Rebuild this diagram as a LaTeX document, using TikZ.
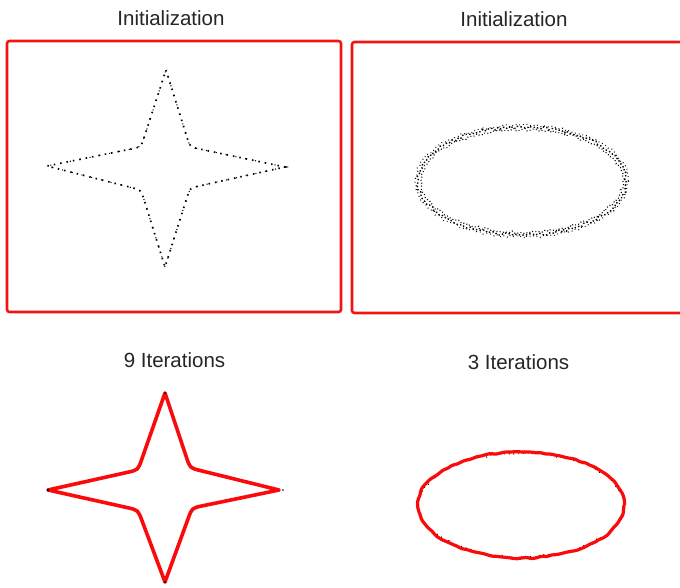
\documentclass[tikz,border=0pt]{standalone}
\usepackage{fontspec}
\setmainfont{Liberation Sans}
\usetikzlibrary{calc,decorations.pathmorphing}
\definecolor{boxred}{RGB}{240,20,20}
\definecolor{curvered}{RGB}{250,10,10}
\tikzset{
  title/.style={anchor=base, inner sep=0pt, text=black!85, font=\fontsize{20.5}{24}\selectfont},
  framebox/.style={draw=boxred, line width=2.6pt, rounded corners=2.5pt},
  initcurve/.style={draw=black, line width=1.7pt, dash pattern=on 1.5pt off 5pt},
  initcurveb/.style={draw=black, line width=1.1pt, dash pattern=on 1pt off 2.2pt},
  noisy/.style={decorate, decoration={random steps, segment length=2.5pt, amplitude=1.4pt}},
  resultcurve/.style={draw=curvered, line width=3.6pt, line join=round},
}
\begin{document}
\begin{tikzpicture}[x=1pt,y=-1pt]
\clip (0,0) rectangle (680,587);
\fill[white] (0,0) rectangle (680,587);
\pgfmathsetseed{7}

% titles
\node[title] (t1) at (171,25) {Initialization};
\node[title] (t2) at (514,26) {Initialization};
\node[title] (t3) at (174.5,367) {9 Iterations};
\node[title] (t4) at (518.5,369) {3 Iterations};

% frames
\draw[framebox] (7,41) rectangle (341,312);
\draw[framebox] (352,42) rectangle (700,313);

% ---- top-left star (dotted initialization)
\coordinate (aT) at (166,70);
\coordinate (aR) at (285,167);
\coordinate (aB) at (165,267);
\coordinate (aL) at (47,166);
\coordinate (aUR) at (190,147);
\coordinate (aLR) at (190,188);
\coordinate (aLL) at (141,190);
\coordinate (aUL) at (141,147);
\draw[initcurve]
  (aT) -- ($(aUR)!10pt!(aT)$) .. controls (aUR) .. ($(aUR)!10pt!(aR)$)
  -- (aR) -- ($(aLR)!10pt!(aR)$) .. controls (aLR) .. ($(aLR)!10pt!(aB)$)
  -- (aB) -- ($(aLL)!10pt!(aB)$) .. controls (aLL) .. ($(aLL)!10pt!(aL)$)
  -- (aL) -- ($(aUL)!10pt!(aL)$) .. controls (aUL) .. ($(aUL)!10pt!(aT)$)
  -- cycle;
\draw[initcurve, line width=1.1pt, dash pattern=on 1pt off 9pt, dash phase=4pt]
  (aT) -- ($(aUR)!10pt!(aT)$) .. controls (aUR) .. ($(aUR)!10pt!(aR)$)
  -- (aR) -- ($(aLR)!10pt!(aR)$) .. controls (aLR) .. ($(aLR)!10pt!(aB)$)
  -- (aB) -- ($(aLL)!10pt!(aB)$) .. controls (aLL) .. ($(aLL)!10pt!(aL)$)
  -- (aL) -- ($(aUL)!10pt!(aL)$) .. controls (aUL) .. ($(aUL)!10pt!(aT)$)
  -- cycle;

% ---- top-right ellipse (noisy dotted initialization)
\coordinate (eC) at (522,181);
\draw[initcurve, noisy, line width=1.4pt, dash pattern=on 1.4pt off 2.2pt] (eC) ellipse [x radius=104, y radius=54];
\draw[initcurveb, noisy] (eC) ellipse [x radius=101, y radius=51.5];
\draw[initcurveb, noisy, dash pattern=on 0.8pt off 3pt] (eC) ellipse [x radius=106.5, y radius=56];

% ---- bottom-left star (result after 9 iterations)
\coordinate (bT) at (165,393);
\coordinate (bR) at (279,490);
\coordinate (bB) at (165,582);
\coordinate (bL) at (48,490);
\coordinate (bUR) at (190,468);
\coordinate (bLR) at (192,508);
\coordinate (bLL) at (138,510);
\coordinate (bUL) at (138,470);
\draw[resultcurve]
  (bT) -- ($(bUR)!11pt!(bT)$) .. controls (bUR) .. ($(bUR)!11pt!(bR)$)
  -- (bR) -- ($(bLR)!11pt!(bR)$) .. controls (bLR) .. ($(bLR)!11pt!(bB)$)
  -- (bB) -- ($(bLL)!11pt!(bB)$) .. controls (bLL) .. ($(bLL)!11pt!(bL)$)
  -- (bL) -- ($(bUL)!11pt!(bL)$) .. controls (bUL) .. ($(bUL)!11pt!(bT)$)
  -- cycle;
\fill[black] (bL) circle (1.3pt) (bR) ++(4,0) circle (0.9pt) (bT) circle (1pt) (bB) circle (1pt);

% ---- bottom-right ellipse (result after 3 iterations)
\coordinate (fC) at (521,505);
\draw[initcurveb, noisy, dash pattern=on 1pt off 4pt] (fC) ellipse [x radius=103, y radius=52];
\draw[resultcurve, line width=3.2pt, rounded corners=1.5pt,
      decorate, decoration={random steps, segment length=5pt, amplitude=0.9pt}]
  (fC) ellipse [x radius=103, y radius=53];
\end{tikzpicture}
\end{document}
